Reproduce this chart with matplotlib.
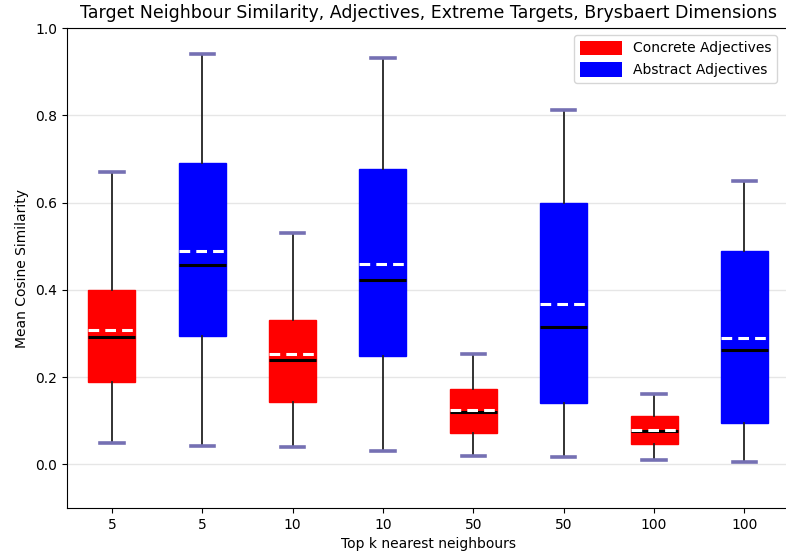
import matplotlib
matplotlib.use("Agg")
import matplotlib.pyplot as plt
from matplotlib.patches import Patch

# Box statistics for each group (top k neighbours, concrete / abstract)
tick_labels = ["5", "5", "10", "10", "50", "50", "100", "100"]
groups = ["Concrete", "Abstract", "Concrete", "Abstract",
          "Concrete", "Abstract", "Concrete", "Abstract"]
whisker_low = [0.050, 0.041, 0.039, 0.031, 0.019, 0.016, 0.011, 0.005]
q1 = [0.188, 0.295, 0.144, 0.248, 0.073, 0.140, 0.046, 0.095]
medians = [0.293, 0.458, 0.240, 0.422, 0.121, 0.315, 0.077, 0.262]
means = [0.309, 0.490, 0.252, 0.460, 0.124, 0.367, 0.079, 0.289]
q3 = [0.400, 0.690, 0.330, 0.678, 0.172, 0.600, 0.112, 0.489]
whisker_high = [0.670, 0.940, 0.531, 0.931, 0.253, 0.812, 0.161, 0.650]

colors = {"Concrete": "red", "Abstract": "blue"}

stats = []
for i in range(len(tick_labels)):
    stats.append(dict(whislo=whisker_low[i], q1=q1[i], med=medians[i],
                      mean=means[i], q3=q3[i], whishi=whisker_high[i],
                      fliers=[], label=tick_labels[i]))

fig = plt.figure(figsize=(7.86, 5.56), dpi=100)
ax = fig.add_axes([0.0849, 0.0863, 0.9196, 0.8633])

bp = ax.bxp(stats, positions=range(1, len(stats) + 1), widths=0.52,
            patch_artist=True, showmeans=True, meanline=True,
            boxprops=dict(linewidth=1),
            medianprops=dict(color="black", linewidth=2.2),
            meanprops=dict(color="white", linewidth=2.2, linestyle=(0, (3.5, 2))),
            whiskerprops=dict(color="#222222", linewidth=1.3),
            capprops=dict(color="#7570b3", linewidth=2.6))

for box, g in zip(bp["boxes"], groups):
    box.set_facecolor(colors[g])
    box.set_edgecolor(colors[g])

ax.set_xlim(0.5, 8.5)
ax.set_ylim(-0.1, 1.0)
ax.set_yticks([0.0, 0.2, 0.4, 0.6, 0.8, 1.0])
ax.yaxis.grid(True, color="#e6e6e6", linewidth=1)
ax.set_axisbelow(True)
ax.spines["right"].set_visible(False)

ax.set_title("Target Neighbour Similarity, Adjectives, Extreme Targets, Brysbaert Dimensions",
             fontsize=12.5, pad=7)
ax.set_xlabel("Top k nearest neighbours", fontsize=10)
ax.set_ylabel("Mean Cosine Similarity", fontsize=10)

handles = [Patch(facecolor="red", label="Concrete Adjectives"),
           Patch(facecolor="blue", label="Abstract Adjectives")]
ax.legend(handles=handles, loc="upper right", bbox_to_anchor=(0.992, 1.0),
          fontsize=10, handlelength=3.0, handleheight=1.2)

fig.savefig("out.png", dpi=100)
